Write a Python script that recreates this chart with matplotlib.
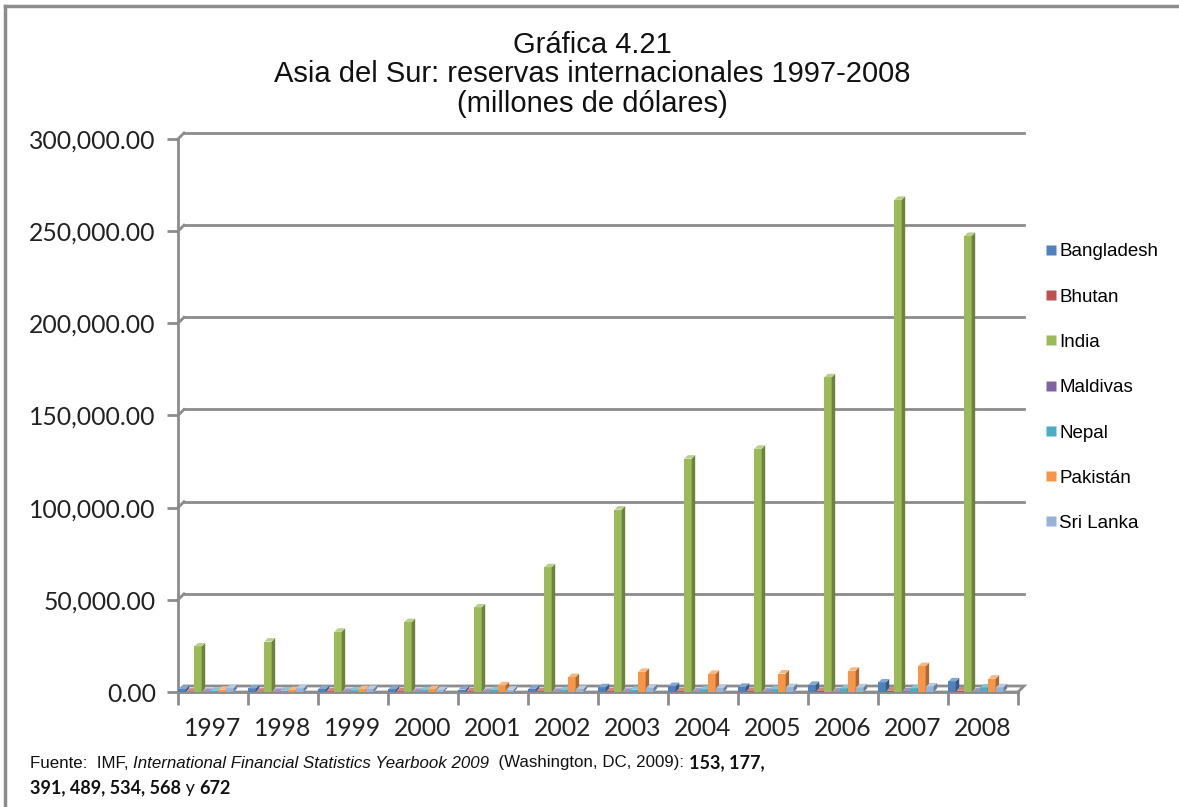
import numpy as np
import matplotlib.pyplot as plt
from matplotlib.patches import Polygon
from matplotlib.lines import Line2D

years = ['1997', '1998', '1999', '2000', '2001', '2002', '2003', '2004', '2005', '2006', '2007', '2008']
countries = ['Bangladesh', 'Bhutan', 'India', 'Maldivas', 'Nepal', 'Pakistán', 'Sri Lanka']

bangladesh = [1611, 1905, 1604, 1486, 1275, 1683, 2580, 3222, 2825, 3877, 5183, 5788]
bhutan = [186, 213, 291, 318, 324, 351, 362, 399, 467, 545, 699, 765]
india = [24688, 27341, 32667, 37902, 45870, 67665, 98938, 126593, 131924, 170738, 266988, 247419]
maldivas = [118, 119, 128, 123, 93, 133, 160, 203, 186, 232, 308, 241]
nepal = [625, 756, 845, 945, 1038, 1018, 1222, 1462, 1499, 1937, 2000, 2459]
pakistan = [1201, 1028, 1511, 1513, 3640, 8078, 10941, 9799, 10033, 11543, 14044, 7194]
sri_lanka = [2024, 1980, 1636, 1039, 1287, 1631, 2282, 2132, 2650, 2526, 3063, 2560]

series = [bangladesh, bhutan, india, maldivas, nepal, pakistan, sri_lanka]
colors = ['#4F81BD', '#C0504D', '#9BBB59', '#8064A2', '#4BACC6', '#F79646', '#95B3D7']
yticks = [0, 50000, 100000, 150000, 200000, 250000, 300000]


def shade(c, f):
    c = np.array(plt.matplotlib.colors.to_rgb(c))
    if f < 1:
        return tuple(c * f)
    return tuple(c + (1 - c) * (f - 1))


W, H = 1179, 807
fig = plt.figure(figsize=(W / 100, H / 100), dpi=100)
ax = fig.add_axes([178 / W, (H - 692) / H, 840 / W, 553 / H])
ax.set_xlim(-0.5, len(years) - 0.5)
ax.set_ylim(0, 300000)

# pixel -> data conversion
px_x = (len(years)) / 840.0
px_y = 300000 / 553.0
grid_c = '#8C8C8C'

# back wall / floor offsets
wdx, wdy = 6 * px_x, 6 * px_y
x0, x1 = -0.5, len(years) - 0.5
for v in yticks[1:]:
    ax.plot([x0 + wdx, x1 + wdx], [v + wdy, v + wdy], color=grid_c, lw=2, clip_on=False, zorder=1)
    ax.plot([x0, x0 + wdx], [v, v + wdy], color=grid_c, lw=2, clip_on=False, zorder=1)
# floor
floor = Polygon([(x0, 0), (x1, 0), (x1 + wdx, wdy), (x0 + wdx, wdy)], closed=True,
                facecolor='white', edgecolor=grid_c, lw=2, clip_on=False, zorder=1)
ax.add_patch(floor)

# bars
bw = 0.105
step = 0.114
shift = -0.1
bdx, bdy = 3.5 * px_x, 3.5 * px_y
for j, (vals, col) in enumerate(zip(series, colors)):
    xs = np.arange(len(years)) + (j - 3) * step + shift
    ax.bar(xs, vals, width=bw, color=col, edgecolor='none', zorder=3 + j)
    for x, v in zip(xs, vals):
        l, r = x - bw / 2, x + bw / 2
        side = Polygon([(r, 0), (r + bdx, bdy), (r + bdx, v + bdy), (r, v)], closed=True,
                       facecolor=shade(col, 0.7), edgecolor='none', zorder=3 + j, clip_on=False)
        top = Polygon([(l, v), (r, v), (r + bdx, v + bdy), (l + bdx, v + bdy)], closed=True,
                      facecolor=shade(col, 1.3), edgecolor='none', zorder=3 + j, clip_on=False)
        ax.add_patch(side)
        ax.add_patch(top)

# axes styling
for s in ['top', 'right']:
    ax.spines[s].set_visible(False)
ax.spines['left'].set_color(grid_c)
ax.spines['left'].set_linewidth(2)
ax.spines['bottom'].set_color(grid_c)
ax.spines['bottom'].set_linewidth(2)
ax.set_yticks(yticks)
ax.set_yticklabels([f'{v:,.2f}' for v in yticks], fontfamily='Lato', fontsize=17.8, color='#222222')
ax.tick_params(axis='y', length=8, width=2, color=grid_c, pad=8)
ax.set_xticks(np.arange(len(years) + 1) - 0.5)
ax.set_xticklabels([])
ax.set_xticks(np.arange(len(years)), minor=True)
ax.set_xticklabels(years, minor=True, fontfamily='Lato', fontsize=17.8, color='#222222')
ax.tick_params(axis='x', which='major', length=9, width=2, color=grid_c, direction='out')
ax.tick_params(axis='x', which='minor', length=0, pad=18)
ax.patch.set_alpha(0)

# title
title_lines = ['Gráfica 4.21', 'Asia del Sur: reservas internacionales 1997-2008', '(millones de dólares)']
for i, t in enumerate(title_lines):
    fig.text(592 / W, 1 - (45 + 29.5 * i) / H, t, ha='center', va='center',
             fontfamily='Liberation Sans', fontsize=21, color='#111111')

# legend
handles = [Line2D([], [], marker='s', ls='none', markersize=7, markerfacecolor=c, markeredgecolor='none')
           for c in colors]
leg = fig.legend(handles, countries, loc='upper left', bbox_to_anchor=(1036 / W, 1 - 234 / H),
                 frameon=False, prop={'family': 'Liberation Sans', 'size': 13.5},
                 handlelength=0.6, handletextpad=0.15, labelspacing=1.5, borderpad=0)

# outer frame (top and left edges)
fig.add_artist(Line2D([5 / W, 1], [1 - 6 / H, 1 - 6 / H], color='#8C8C8C', lw=2.5))
fig.add_artist(Line2D([5 / W, 5 / W], [0, 1 - 6 / H], color='#8C8C8C', lw=2.5))

# footer, drawn piece by piece
fig.canvas.draw()
renderer = fig.canvas.get_renderer()


def put(x, y, s, **kw):
    t = fig.text(x / W, 1 - y / H, s, ha='left', va='center', color='#111111', **kw)
    bb = t.get_window_extent(renderer)
    return x + bb.width


arial = dict(fontfamily='Liberation Sans', fontsize=12.2)
lato = dict(fontfamily='Lato', fontsize=13, fontweight='bold')
x = put(30, 763, 'Fuente:  IMF, ', **arial)
x = put(x, 763, 'International Financial Statistics Yearbook 2009', fontstyle='italic', **arial)
x = put(x, 763, '  (Washington, DC, 2009): ', **arial)
x = put(x, 763, '153, 177,', **lato)
x = put(30, 788, '391, 489, 534, 568', **lato)
x = put(x, 788, ' y ', fontfamily='Lato', fontsize=13)
x = put(x, 788, '672', **lato)

fig.savefig('out.png', dpi=100)
